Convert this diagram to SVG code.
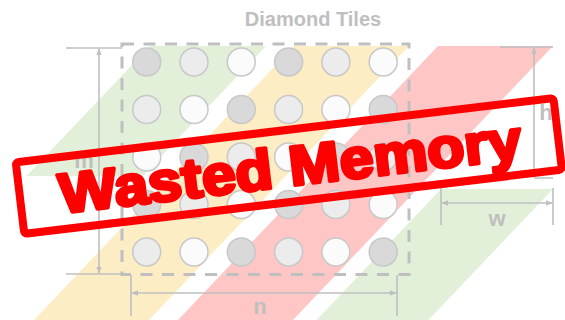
<svg xmlns="http://www.w3.org/2000/svg" width="565" height="320" viewBox="0 0 565 320">
<style>
.g{fill:#e3f0d9}.y{fill:#fdedc4}.r{fill:#ffc6c6}
.c{stroke:#c8c8c8;stroke-width:1.5}
.d{fill:#d9d9d9}.l{fill:#ececec}.w{fill:#fbfbfb}
.dim{stroke:#bfbfbf;stroke-width:1.6;fill:none}
.lab{font-family:"Liberation Sans",Arial,sans-serif;fill:#bfbfbf;font-size:22px;font-weight:bold;text-anchor:middle}
</style>
<defs>
<marker id="ah" viewBox="0 0 10 10" refX="9" refY="5" markerWidth="7" markerHeight="7" orient="auto-start-reverse" markerUnits="userSpaceOnUse">
<path d="M0,1 L10,5 L0,9 z" fill="#bfbfbf"/>
</marker>
</defs>
<rect width="565" height="320" fill="#fff"/>
<g id="bands">
<polygon class="g" points="150,46 266,46 142.5,176 26.5,176"/>
<polygon class="y" points="294,46 409,46 149,320 34,320"/>
<polygon class="r" points="438,46 553,46 293,320 178,320"/>
<polygon class="g" points="441,189 553,189 428.5,320 316.5,320"/>
</g>
<text class="lab" x="313" y="26" style="font-size:20px">Diamond Tiles</text>
<rect id="domain" x="122" y="44" width="287" height="230.5" fill="none" stroke="#bfbfbf" stroke-width="3" stroke-dasharray="12 9.5"/>
<g id="grid">
<g id="row1">
<circle class="c d" cx="146.7" cy="62" r="14"/><circle class="c l" cx="194" cy="62" r="14"/><circle class="c w" cx="241.3" cy="62" r="14"/><circle class="c d" cx="288.6" cy="62" r="14"/><circle class="c l" cx="335.9" cy="62" r="14"/><circle class="c w" cx="383.2" cy="62" r="14"/>
</g>
<g id="row2">
<circle class="c l" cx="146.7" cy="109.5" r="14"/><circle class="c w" cx="194" cy="109.5" r="14"/><circle class="c d" cx="241.3" cy="109.5" r="14"/><circle class="c l" cx="288.6" cy="109.5" r="14"/><circle class="c w" cx="335.9" cy="109.5" r="14"/><circle class="c d" cx="383.2" cy="109.5" r="14"/>
</g>
<g id="row3">
<circle class="c w" cx="146.7" cy="157" r="14"/><circle class="c d" cx="194" cy="157" r="14"/><circle class="c l" cx="241.3" cy="157" r="14"/><circle class="c w" cx="288.6" cy="157" r="14"/><circle class="c d" cx="335.9" cy="157" r="14"/><circle class="c l" cx="383.2" cy="157" r="14"/>
</g>
<g id="row4">
<circle class="c d" cx="146.7" cy="204.5" r="14"/><circle class="c l" cx="194" cy="204.5" r="14"/><circle class="c w" cx="241.3" cy="204.5" r="14"/><circle class="c d" cx="288.6" cy="204.5" r="14"/><circle class="c l" cx="335.9" cy="204.5" r="14"/><circle class="c w" cx="383.2" cy="204.5" r="14"/>
</g>
<g id="row5">
<circle class="c l" cx="146.7" cy="252" r="14"/><circle class="c w" cx="194" cy="252" r="14"/><circle class="c d" cx="241.3" cy="252" r="14"/><circle class="c l" cx="288.6" cy="252" r="14"/><circle class="c w" cx="335.9" cy="252" r="14"/><circle class="c d" cx="383.2" cy="252" r="14"/>
</g>
</g>
<g id="dimensions">
<g id="dim-m">
<path class="dim" d="M66,48 H122 M66,274 H122"/>
<path class="dim" d="M99,49 V273" marker-start="url(#ah)" marker-end="url(#ah)"/>
<text class="lab" x="84" y="168">m</text>
</g>
<g id="dim-n">
<path class="dim" d="M131,275 V316 M397,275 V316"/>
<path class="dim" d="M132,293 H396" marker-start="url(#ah)" marker-end="url(#ah)"/>
<text class="lab" x="260" y="314">n</text>
</g>
<g id="dim-h">
<path class="dim" d="M500,47 H553 M534,178 H553"/>
<path class="dim" d="M534,48 V177" marker-start="url(#ah)" marker-end="url(#ah)"/>
<text class="lab" x="546" y="120">h</text>
</g>
<g id="dim-w">
<path class="dim" d="M441,188 V225 M553,188 V225"/>
<path class="dim" d="M442,203 H552" marker-start="url(#ah)" marker-end="url(#ah)"/>
<text class="lab" x="497" y="226">w</text>
</g>
</g>
<g id="stamp" transform="rotate(-6.8 288.5 165)">
<rect x="18" y="130" width="541.5" height="72" rx="3" fill="none" stroke="#ff0000" stroke-width="8"/>
<text x="290" y="186" text-anchor="middle" textLength="465" lengthAdjust="spacingAndGlyphs" font-family="'Liberation Sans',Arial,sans-serif" font-weight="bold" font-size="56" fill="#ff0000" stroke="#ff0000" stroke-width="3.5" stroke-linejoin="round">Wasted Memory</text>
</g>
</svg>
